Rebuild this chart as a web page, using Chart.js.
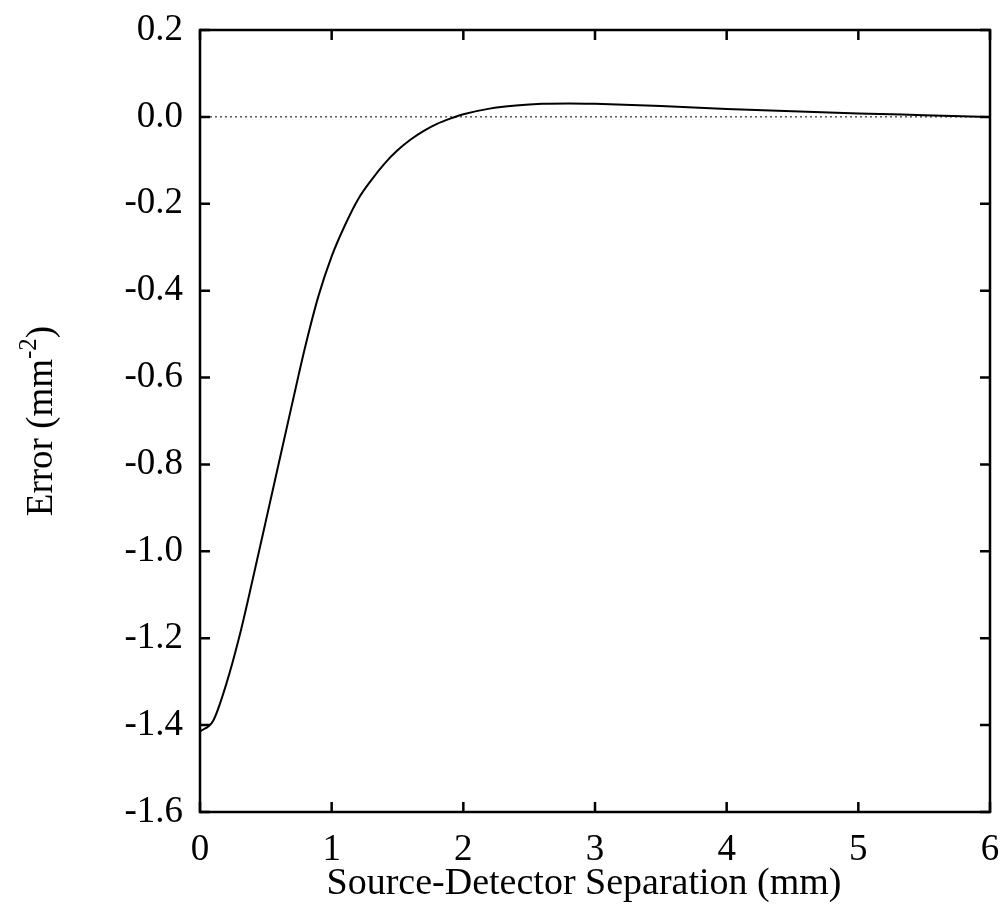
<!DOCTYPE html>
<html>
<head>
<meta charset="utf-8">
<script src="https://cdn.jsdelivr.net/npm/chart.js@4"></script>
<style>
  body { margin: 0; padding: 0; background: #fff; }
  #wrap { width: 1002px; height: 909px; position: relative; }
</style>
</head>
<body>
<div id="wrap"><canvas id="chart" width="1002" height="909"></canvas></div>
<script>
// separation (mm) and error (mm^-2)
const separation = [0, 0.1, 0.2, 0.3, 0.4, 0.5, 0.6, 0.7, 0.8, 0.9, 1.0, 1.1, 1.2, 1.3, 1.4, 1.5, 1.6, 1.7, 1.8, 1.9, 2.0, 2.2, 2.4, 2.6, 2.8, 3.0, 3.5, 4.0, 4.5, 5.0, 5.5, 6.0];
const errorVals = [-1.415, -1.39, -1.305, -1.195, -1.065, -0.93, -0.795, -0.66, -0.528, -0.412, -0.321, -0.25, -0.19, -0.146, -0.108, -0.077, -0.052, -0.032, -0.016, -0.004, 0.006, 0.019, 0.026, 0.030, 0.031, 0.030, 0.025, 0.018, 0.013, 0.008, 0.004, 0.0];
const xTicks = [0, 1, 2, 3, 4, 5, 6];
const yTicks = [0.2, 0.0, -0.2, -0.4, -0.6, -0.8, -1.0, -1.2, -1.4, -1.6];
const zeroLine = [0, 0];

const serif = "'Liberation Serif', 'Times New Roman', serif";

// inward tick marks, frame and axis titles
const framePlugin = {
  id: "frame",
  afterDatasetsDraw(chart) {
    const ctx = chart.ctx;
    const a = chart.chartArea;
    const xs = chart.scales.x, ys = chart.scales.y;
    ctx.save();
    ctx.strokeStyle = "#000";
    ctx.lineWidth = 2.5;
    ctx.strokeRect(a.left, a.top, a.right - a.left, a.bottom - a.top);
    const len = 10;
    ctx.beginPath();
    xTicks.forEach((v) => {
      const px = xs.getPixelForValue(v);
      ctx.moveTo(px, a.bottom); ctx.lineTo(px, a.bottom - len);
      ctx.moveTo(px, a.top); ctx.lineTo(px, a.top + len);
    });
    yTicks.forEach((v) => {
      const py = ys.getPixelForValue(v);
      ctx.moveTo(a.left, py); ctx.lineTo(a.left + len, py);
      ctx.moveTo(a.right, py); ctx.lineTo(a.right - len, py);
    });
    ctx.stroke();

    // x title
    ctx.fillStyle = "#000";
    ctx.font = "38px " + serif;
    ctx.textAlign = "center";
    ctx.textBaseline = "alphabetic";
    ctx.fillText("Source-Detector Separation (mm)", 584, 894);

    // y title with superscript
    ctx.translate(52, (a.top + a.bottom) / 2);
    ctx.rotate(-Math.PI / 2);
    const big = "37px " + serif, small = "25px " + serif;
    ctx.font = big;
    const w1 = ctx.measureText("Error (mm").width;
    const w3 = ctx.measureText(")").width;
    ctx.font = small;
    const w2 = ctx.measureText("-2").width;
    const x0 = -(w1 + w2 + w3) / 2;
    ctx.textAlign = "left";
    ctx.font = big;
    ctx.fillText("Error (mm", x0, 0);
    ctx.font = small;
    ctx.fillText("-2", x0 + w1, -16);
    ctx.font = big;
    ctx.fillText(")", x0 + w1 + w2, 0);
    ctx.restore();
  }
};

new Chart(document.getElementById("chart"), {
  type: "line",
  data: {
    datasets: [
      {
        data: separation.map((s, i) => ({ x: s, y: errorVals[i] })),
        borderColor: "#000",
        borderWidth: 2,
        pointRadius: 0,
        fill: false,
        cubicInterpolationMode: "monotone"
      },
      {
        data: [{ x: 0, y: zeroLine[0] }, { x: 6, y: zeroLine[1] }],
        borderColor: "#000",
        borderWidth: 1,
        borderDash: [2, 3],
        pointRadius: 0,
        fill: false
      }
    ]
  },
  options: {
    responsive: false,
    animation: false,
    layout: { padding: { top: 30, right: 12, left: 0, bottom: 0 } },
    plugins: { legend: { display: false }, tooltip: { enabled: false } },
    scales: {
      x: {
        type: "linear",
        min: 0,
        max: 6,
        afterFit: (s) => { s.height = 97; s.paddingLeft = 0; s.paddingRight = 0; },
        afterBuildTicks: (s) => { s.ticks = xTicks.map((v) => ({ value: v })); },
        grid: { display: false, drawTicks: false },
        border: { display: false },
        ticks: {
          color: "#000",
          padding: 16,
          font: { family: serif, size: 37 },
          callback: (v) => String(v)
        }
      },
      y: {
        type: "linear",
        min: -1.6,
        max: 0.2,
        afterFit: (s) => { s.width = 200; s.paddingTop = 0; s.paddingBottom = 0; },
        afterBuildTicks: (s) => { s.ticks = yTicks.map((v) => ({ value: v })); },
        grid: { display: false, drawTicks: false },
        border: { display: false },
        ticks: {
          color: "#000",
          padding: 17,
          font: { family: serif, size: 37 },
          callback: (v) => Number(v).toFixed(1)
        }
      }
    }
  },
  plugins: [framePlugin]
});
</script>
</body>
</html>
